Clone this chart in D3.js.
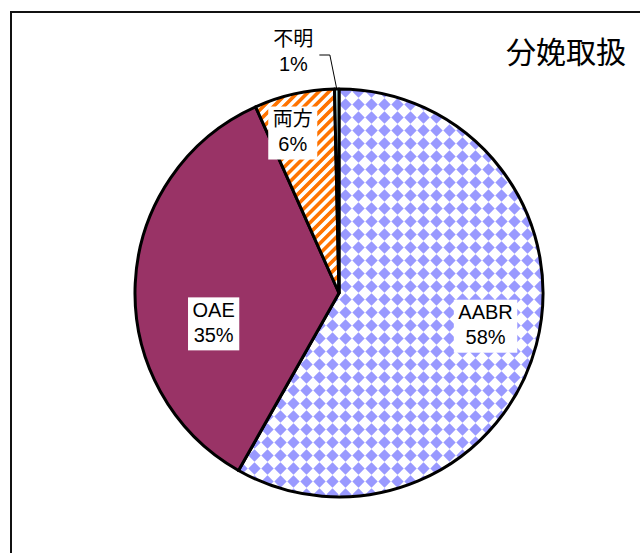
<!DOCTYPE html>
<html>
<head>
<meta charset="utf-8">
<script src="https://cdn.jsdelivr.net/npm/d3@7"></script>
<style>
  body { margin: 0; background: #fff; }
  svg { display: block; }
</style>
</head>
<body>
<script>
var width = 640,
  height = 553;

// data (share of cases, %)
var categories = ["AABR", "OAE", "両方", "不明"];
var values = [58.2, 35.1, 6.35, 0.35];
var pctLabels = ["58%", "35%", "6%", "1%"];
var title = "分娩取扱";

// layout
var cx = 339, cy = 293, radius = 204;
var labelR = [150, 130, 165, 240];
var nudge = [[1.5, -5], [4.5, 37], [-10, 1], [-43, 0]];
var boxed = [true, true, true, false];

var svg = d3.select("body").append("svg")
  .attr("width", width).attr("height", height);

var defs = svg.append("defs");

// blue diamond checker
var pd = defs.append("pattern")
  .attr("id", "diam").attr("patternUnits", "userSpaceOnUse")
  .attr("width", 13).attr("height", 13);
pd.append("rect").attr("width", 13).attr("height", 13).attr("fill", "#fff");
pd.append("path").attr("d", "M6.5,0.3L12.7,6.5L6.5,12.7L0.3,6.5Z").attr("fill", "#9999ff");

// orange upward diagonal stripes
var ps = defs.append("pattern")
  .attr("id", "stripe").attr("patternUnits", "userSpaceOnUse")
  .attr("width", 7.2).attr("height", 10)
  .attr("patternTransform", "rotate(45)");
ps.append("rect").attr("width", 7.2).attr("height", 10).attr("fill", "#fff");
ps.append("rect").attr("width", 3.6).attr("height", 10).attr("fill", "#ff7300");

var fills = ["url(#diam)", "#993366", "url(#stripe)", "#c4f4f4"];

// frame
svg.append("rect")
  .attr("x", 11).attr("y", 12)
  .attr("width", 800).attr("height", 800)
  .attr("fill", "none").attr("stroke", "#111").attr("stroke-width", 2);

var pie = d3.pie().sort(null).value(function (d) { return d; });
var arcs = pie(values);

var arc = d3.arc().innerRadius(0).outerRadius(radius);

var g = svg.append("g").attr("transform", "translate(" + cx + "," + cy + ")");

g.selectAll("path.slice")
  .data(arcs)
  .join("path")
  .attr("class", "slice")
  .attr("d", arc)
  .attr("fill", function (d, i) { return fills[i]; })
  .attr("stroke", "#000")
  .attr("stroke-width", 3)
  .attr("stroke-linejoin", "round");

// leader line for the small slice
var last = arcs[3];
var edge = d3.arc().innerRadius(radius).outerRadius(radius).centroid(last);
var lp = d3.arc().innerRadius(labelR[3]).outerRadius(labelR[3]).centroid(last);
g.append("polyline")
  .attr("points", [
    [lp[0] - 17, lp[1] + 2],
    [lp[0] - 6.5, lp[1] + 2],
    edge
  ].map(function (p) { return p.join(","); }).join(" "))
  .attr("fill", "none").attr("stroke", "#000").attr("stroke-width", 1);

// labels
var lab = g.selectAll("g.lab")
  .data(arcs)
  .join("g")
  .attr("class", "lab")
  .attr("transform", function (d, i) {
    var c = d3.arc().innerRadius(labelR[i]).outerRadius(labelR[i]).centroid(d);
    return "translate(" + (c[0] + nudge[i][0]) + "," + (c[1] + nudge[i][1]) + ")";
  });

var box = lab.append("rect").attr("fill", "#fff");

var txt = lab.append("text")
  .attr("text-anchor", "middle")
  .attr("font-family", "'Liberation Sans', Arial, 'Noto Sans CJK JP', sans-serif")
  .attr("font-size", 20)
  .attr("fill", "#000");
txt.append("tspan").attr("x", 0).attr("y", -7)
  .text(function (d, i) { return categories[i]; });
txt.append("tspan").attr("x", 0).attr("y", 18)
  .text(function (d, i) { return pctLabels[i]; });

box.each(function (d, i) {
  if (!boxed[i]) return;
  var bb = this.nextSibling.getBBox();
  var w = Math.max(bb.width + 9, 42);
  d3.select(this)
    .attr("x", -w / 2).attr("y", -26.5)
    .attr("width", w).attr("height", 53);
});

// title
svg.append("text")
  .attr("x", 566).attr("y", 63)
  .attr("text-anchor", "middle")
  .attr("font-family", "'Noto Sans CJK JP', sans-serif")
  .attr("font-size", 30)
  .attr("fill", "#000")
  .text(title);
</script>
</body>
</html>
